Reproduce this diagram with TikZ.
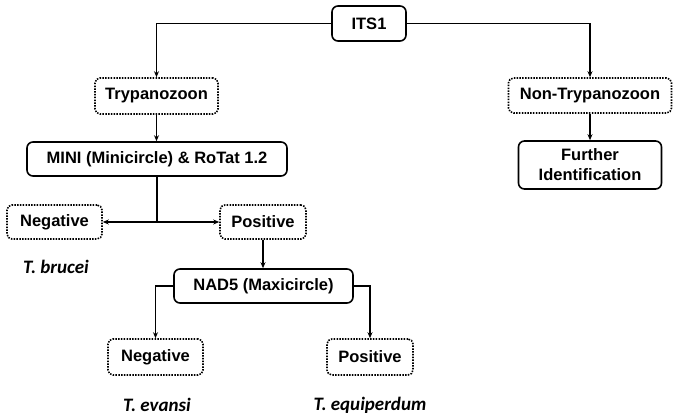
\documentclass[tikz,border=0pt]{standalone}
\usepackage{fontspec}
\setmainfont{Liberation Sans}
\newfontfamily\labfont{Carlito}
\usetikzlibrary{arrows.meta}
\tikzset{
  base/.style={rectangle, rounded corners=6pt, line width=1.6pt, inner sep=0pt, align=center,
    font=\fontsize{16.5}{19}\selectfont\bfseries},
  solidbox/.style={base, draw=black},
  dotbox/.style={base, draw=black, rounded corners=5pt, dash pattern=on 1.5pt off 1.3pt},
  conn/.style={line width=1.6pt, -{Stealth[length=6pt,width=5pt]}},
  plain/.style={line width=1.6pt},
  species/.style={font=\labfont\fontsize{19}{22}\selectfont\bfseries\itshape, inner sep=0pt}
}
\begin{document}
\begin{tikzpicture}[x=1pt,y=-1pt]
\useasboundingbox (0,0) rectangle (673,417);
\node[solidbox, minimum width=74pt, minimum height=35pt] (its) at (369,23.5) {ITS1};
\node[dotbox, minimum width=123pt, minimum height=36pt] (tryp) at (156.5,96) {Trypanozoon};
\node[dotbox, minimum width=163pt, minimum height=35pt] (ntryp) at (590,95.5) {Non-Trypanozoon};
\node[solidbox, minimum width=260pt, minimum height=34pt] (mini) at (157,159) {MINI (Minicircle) \& RoTat 1.2};
\node[solidbox, minimum width=143pt, minimum height=48pt, font=\fontsize{16.5}{20}\selectfont\bfseries] (further) at (590,165) {Further\\Identification};
\node[dotbox, minimum width=95pt, minimum height=34pt] (neg1) at (54.5,222) {Negative};
\node[dotbox, minimum width=86pt, minimum height=34pt] (pos1) at (263,222) {Positive};
\node[solidbox, minimum width=179pt, minimum height=34pt] (nad) at (263.5,286) {NAD5 (Maxicircle)};
\node[dotbox, minimum width=95pt, minimum height=36pt] (neg2) at (155.5,357) {Negative};
\node[dotbox, minimum width=86pt, minimum height=36pt] (pos2) at (370,357) {Positive};
\node[species] (tb) at (56,267) {T. brucei};
\node[species] (te) at (157,405) {T. evansi};
\node[species] (teq) at (370,405) {T. equiperdum};
\coordinate (j) at (157,222);
\draw[conn] (its.west) -| (tryp.north);
\draw[conn] (its.east) -| (ntryp.north);
\draw[conn] (tryp.south) -- (tryp.south |- mini.north);
\draw[conn] (ntryp.south) -- (further.north);
\draw[plain] (mini.south) -- (j);
\draw[conn] (j) -- (neg1.east);
\draw[conn] (j) -- (pos1.west);
\draw[conn] (pos1.south) -- (pos1.south |- nad.north);
\draw[conn] (nad.west) -| (neg2.north);
\draw[conn] (nad.east) -| (pos2.north);
\end{tikzpicture}
\end{document}
